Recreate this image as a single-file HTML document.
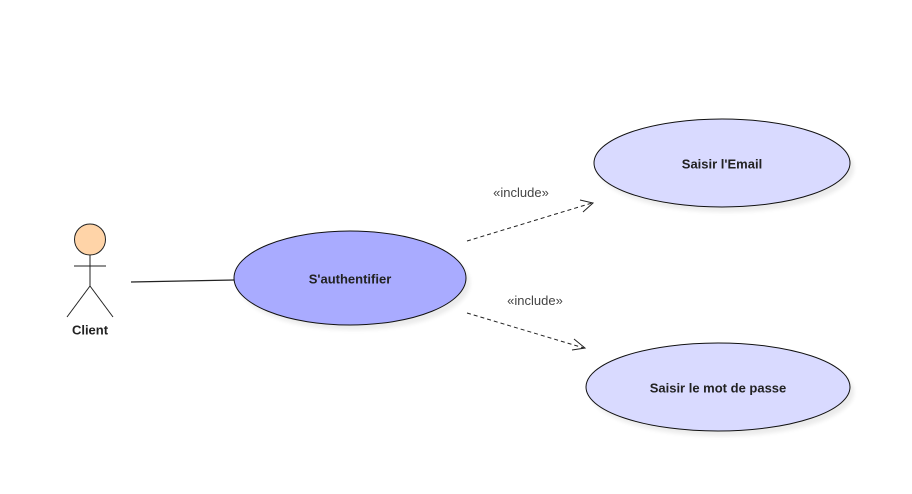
<!DOCTYPE html>
<html><head><meta charset="utf-8"><style>
html,body{margin:0;padding:0;background:#fff;}
svg{display:block;font-family:"Liberation Sans",sans-serif;}
</style></head><body>
<svg width="912" height="494" viewBox="0 0 912 494" xmlns="http://www.w3.org/2000/svg">
<defs>
<filter id="sh" x="-10%" y="-10%" width="130%" height="140%"><feGaussianBlur stdDeviation="2"/></filter>
</defs>
<ellipse cx="354" cy="283" rx="116" ry="47" fill="#000" opacity="0.08" filter="url(#sh)"/>
<ellipse cx="726" cy="168" rx="128" ry="44" fill="#000" opacity="0.08" filter="url(#sh)"/>
<ellipse cx="722" cy="392" rx="132" ry="44" fill="#000" opacity="0.08" filter="url(#sh)"/>
<circle cx="90" cy="239.5" r="15.5" fill="#ffd4a8" stroke="#222" stroke-width="1"/>
<line x1="90" y1="255" x2="90" y2="286" stroke="#222"/>
<line x1="74" y1="266" x2="106" y2="266" stroke="#222"/>
<line x1="90" y1="286" x2="67" y2="317" stroke="#222"/>
<line x1="90" y1="286" x2="113" y2="317" stroke="#222"/>
<text x="90" y="334.5" font-size="13" font-weight="bold" text-anchor="middle" fill="#222">Client</text>
<line x1="131" y1="282" x2="234" y2="280" stroke="#222" stroke-width="1.2"/>
<ellipse cx="350" cy="278" rx="116" ry="47" fill="#a9abff" stroke="#111" stroke-width="1"/>
<text x="350" y="283.5" font-size="13" font-weight="bold" text-anchor="middle" fill="#222">S'authentifier</text>
<ellipse cx="722" cy="163" rx="128" ry="44" fill="#d9daff" stroke="#111" stroke-width="1"/>
<text x="722" y="168.5" font-size="13" font-weight="bold" text-anchor="middle" fill="#222">Saisir l'Email</text>
<ellipse cx="718" cy="387" rx="132" ry="44" fill="#d9daff" stroke="#111" stroke-width="1"/>
<text x="718" y="392.5" font-size="13" font-weight="bold" text-anchor="middle" fill="#222">Saisir le mot de passe</text>
<line x1="467" y1="241" x2="592" y2="203" stroke="#222" stroke-dasharray="4,3"/>
<polyline points="580,200 593,203 583,212" fill="none" stroke="#222"/>
<text x="521" y="197" font-size="13" text-anchor="middle" fill="#444">«include»</text>
<line x1="467" y1="313" x2="584" y2="348" stroke="#222" stroke-dasharray="4,3"/>
<polyline points="574,339 585,348 572,350" fill="none" stroke="#222"/>
<text x="535" y="305" font-size="13" text-anchor="middle" fill="#444">«include»</text>
</svg>
</body></html>
